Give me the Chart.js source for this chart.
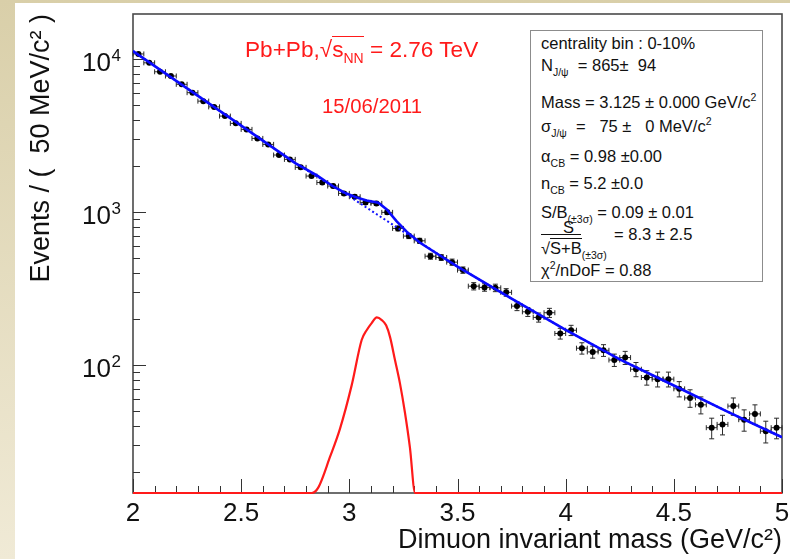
<!DOCTYPE html>
<html><head><meta charset="utf-8">
<script src="https://cdn.jsdelivr.net/npm/chart.js@4.4.1/dist/chart.umd.min.js"></script>
<style>
html,body{margin:0;padding:0;}
body{width:790px;height:559px;overflow:hidden;position:relative;background:linear-gradient(to bottom,#d9cfa9,#f0ead6);font-family:"Liberation Sans",Arial,sans-serif;}
#sheet{position:absolute;left:15px;top:3px;width:775px;height:556px;background:#fff;}
#chart{position:absolute;left:0;top:0;}
.t{position:absolute;white-space:pre;line-height:1;color:#111;}
.red{color:#ff1a1a;}
.st{font-size:16.5px;}
.sb{font-size:10.5px;position:relative;top:5px;}
.sp{font-size:10.5px;position:relative;top:-7px;}
#stats{position:absolute;left:530px;top:30px;width:231px;height:250px;border:1.5px solid #8c8c8c;background:#fff;}
</style></head>
<body>
<div id="sheet"></div>
<canvas id="chart" width="790" height="559"></canvas>

<div class="t red" style="left:245px;top:38.5px;font-size:22.6px;">Pb+Pb,√<span style="border-top:1.5px solid #ff1a1a;">s<span style="font-size:14px;position:relative;top:6px;">NN</span></span> = 2.76 TeV</div>
<div class="t red" style="left:322px;top:96px;font-size:20.3px;">15/06/2011</div>

<div id="stats"></div>
<div class="t st" style="left:541px;top:35px;">centrality bin : 0-10%</div>
<div class="t st" style="left:541px;top:57px;">N<span class="sb">J/ψ</span>  = 865±  94</div>
<div class="t st" style="left:541px;top:93.5px;">Mass = 3.125 ± 0.000 GeV/c<span class="sp">2</span></div>
<div class="t st" style="left:541px;top:118px;">σ<span class="sb">J/ψ</span>  =   75 ±   0 MeV/c<span class="sp">2</span></div>
<div class="t st" style="left:541px;top:147.5px;">α<span class="sb">CB</span> = 0.98 ±0.00</div>
<div class="t st" style="left:541px;top:174.5px;">n<span class="sb">CB</span> = 5.2 ±0.0</div>
<div class="t st" style="left:541px;top:204px;">S/B<span class="sb">(±3σ)</span> = 0.09 ± 0.01</div>
<div class="t st" style="left:563px;top:218.5px;">S</div>
<div style="position:absolute;left:541px;top:233.5px;width:40px;height:1.3px;background:#111;"></div>
<div class="t st" style="left:541px;top:239.5px;">√<span style="border-top:1.3px solid #111;">S+B</span><span class="sb">(±3σ)</span></div>
<div class="t st" style="left:614px;top:225.5px;">= 8.3 ± 2.5</div>
<div class="t st" style="left:541px;top:261.5px;">χ<span class="sp">2</span>/nDoF = 0.88</div>

<script>
// ---- axis ranges and ticks ----
const Y_MIN = 14.6;
const Y_MAX = 19700;
const X_MIN = 2;
const X_MAX = 5;
const xTickValues = [2, 2.5, 3, 3.5, 4, 4.5, 5];
const xTickLabels = ['2', '2.5', '3', '3.5', '4', '4.5', '5'];
const yTickValues = [100, 1000, 10000];
const yTickBase = ['10', '10', '10'];
const yTickExponents = ['2', '3', '4'];

// ---- data histogram (bin centres, counts, errors) ----
const BIN_HALF_WIDTH = 0.025;
const massBins = [2.025,2.075,2.125,2.175,2.225,2.275,2.325,2.375,2.425,2.475,
                  2.525,2.575,2.625,2.675,2.725,2.775,2.825,2.875,2.925,2.975,
                  3.025,3.075,3.125,3.175,3.225,3.275,3.325,3.375,3.425,3.475,
                  3.525,3.575,3.625,3.675,3.725,3.775,3.825,3.875,3.925,3.975,
                  4.025,4.075,4.125,4.175,4.225,4.275,4.325,4.375,4.425,4.475,
                  4.525,4.575,4.625,4.675,4.725,4.775,4.825,4.875,4.925,4.975];
const counts = [10800,9450,8260,7750,6840,6030,5310,4870,4240,3800,
                3470,3030,2770,2360,2210,1960,1720,1560,1480,1325,
                1260,1157,1140,996,782,697,649,515,505,471,
                418,328,322,320,299,243,223,205,220,161,
                169,129,122,125,108,112,94,83,81,81,
                70,61,55,39,41,54,44,48,37,39];
const countErrors = [104,97,91,88,83,78,73,70,65,62,
                     59,55,53,49,47,44,41,40,38,36,
                     35,34,34,32,28,26,25,23,22,22,
                     20,18,18,18,17,16,15,14,15,13,
                     13,11,11,11,10,11,10,9,9,9,
                     8,8,7,6,6,7,7,7,6,6];

// ---- fitted background (dotted) ----
const bkgMass   = [2.0, 2.25, 2.5, 2.75, 3.0, 3.25, 3.5, 3.75, 4.0, 4.25, 4.5, 4.75, 5.0];
const bkgValues = [11280, 6440, 3670, 2089, 1267, 745, 440, 272, 170, 109, 73.6, 49.5, 33.8];

// ---- total fit (solid) ----
const fitMass   = [2.0, 2.25, 2.5, 2.75, 2.85, 2.926, 2.98, 3.034, 3.08, 3.134, 3.173, 3.219, 3.265, 3.327, 3.388, 3.5, 3.75, 4.0, 4.25, 4.5, 4.75, 5.0];
const fitValues = [11280, 6440, 3670, 2089, 1735, 1470, 1335, 1245, 1190, 1150, 1040, 870, 745, 630, 555, 440, 272, 170, 109, 73.6, 49.5, 33.8];

// ---- J/psi signal (red), values below the axis minimum sit on the axis ----
const sigMass   = [2.0, 2.826, 2.857, 2.911, 2.957, 3.011, 3.057, 3.080, 3.104, 3.127, 3.150, 3.170, 3.188, 3.211, 3.234, 3.257, 3.280, 3.304, 5.0];
const sigValues = [14.6, 14.6, 15.9, 25.2, 38.5, 74, 146, 169, 189, 205, 197, 182, 153, 108, 76, 49, 29, 14.6, 14.6];

const FONT = '"Liberation Sans", Arial, sans-serif';
const pts = (xs, ys) => xs.map((x, i) => ({x: x, y: ys[i]}));

const errorBars = {
  id: 'errorBars',
  beforeDatasetsDraw(chart) {
    const {ctx, scales: {x, y}, chartArea: a} = chart;
    ctx.save();
    // frame
    ctx.strokeStyle = '#4a4a4a';
    ctx.lineWidth = 1.6;
    ctx.strokeRect(a.left, a.top, a.right - a.left, a.bottom - a.top);
    // ticks (inside)
    ctx.strokeStyle = '#333';
    ctx.lineWidth = 1;
    ctx.beginPath();
    for (let k = 0; k <= 30; k++) {
      const v = X_MIN + k * 0.1;
      const px = Math.round(x.getPixelForValue(v)) + 0.5;
      const major = xTickValues.some(t => Math.abs(t - v) < 1e-6);
      ctx.moveTo(px, a.bottom);
      ctx.lineTo(px, a.bottom - (major ? 14 : 7));
    }
    for (let d = 1; d <= 4; d++) {
      for (let m = 1; m <= 9; m++) {
        const v = m * Math.pow(10, d);
        if (v < Y_MIN || v > Y_MAX) continue;
        const py = Math.round(y.getPixelForValue(v)) + 0.5;
        ctx.moveTo(a.left, py);
        ctx.lineTo(a.left + (m === 1 ? 13 : 7), py);
      }
    }
    ctx.stroke();
    // error bars
    ctx.strokeStyle = '#2a2a2a';
    ctx.lineWidth = 1;
    ctx.beginPath();
    massBins.forEach((m, i) => {
      const px = x.getPixelForValue(m);
      const py = y.getPixelForValue(counts[i]);
      const yt = y.getPixelForValue(counts[i] + countErrors[i]);
      const yb = y.getPixelForValue(counts[i] - countErrors[i]);
      const xl = x.getPixelForValue(m - BIN_HALF_WIDTH);
      const xr = x.getPixelForValue(m + BIN_HALF_WIDTH);
      ctx.moveTo(px, yt); ctx.lineTo(px, yb);
      ctx.moveTo(px - 2.5, yt); ctx.lineTo(px + 2.5, yt);
      ctx.moveTo(px - 2.5, yb); ctx.lineTo(px + 2.5, yb);
      ctx.moveTo(xl, py); ctx.lineTo(xr, py);
      ctx.moveTo(xl, py - 2.5); ctx.lineTo(xl, py + 2.5);
      ctx.moveTo(xr, py - 2.5); ctx.lineTo(xr, py + 2.5);
    });
    ctx.stroke();
    ctx.restore();
  },
  afterDraw(chart) {
    const {ctx, scales: {y}} = chart;
    ctx.save();
    ctx.fillStyle = '#111';
    ctx.textBaseline = 'alphabetic';
    yTickValues.forEach((v, i) => {
      const py = y.getPixelForValue(v);
      ctx.font = '26px ' + FONT;
      ctx.textAlign = 'right';
      ctx.fillText(yTickBase[i], 111, py + 12);
      ctx.font = '17px ' + FONT;
      ctx.textAlign = 'left';
      ctx.fillText(yTickExponents[i], 111.5, py + 2);
    });
    ctx.restore();
  }
};

new Chart(document.getElementById('chart'), {
  type: 'scatter',
  data: {
    datasets: [
      {
        label: 'data',
        data: pts(massBins, counts),
        pointRadius: 3,
        pointBackgroundColor: '#000',
        pointBorderWidth: 0,
        borderColor: '#000',
        showLine: false,
        order: 4
      },
      {
        label: 'background',
        data: pts(bkgMass, bkgValues),
        showLine: true,
        borderColor: '#1010ff',
        borderWidth: 2,
        borderDash: [2, 2.5],
        pointRadius: 0,
        tension: 0,
        order: 3
      },
      {
        label: 'fit',
        data: pts(fitMass, fitValues),
        showLine: true,
        borderColor: '#0a0aff',
        borderWidth: 2.6,
        pointRadius: 0,
        tension: 0,
        order: 2
      },
      {
        label: 'signal',
        data: pts(sigMass, sigValues),
        showLine: true,
        borderColor: '#ff1a1a',
        borderWidth: 2.2,
        pointRadius: 0,
        cubicInterpolationMode: 'monotone',
        clip: 4,
        order: 1
      }
    ]
  },
  options: {
    responsive: false,
    animation: false,
    devicePixelRatio: 1,
    layout: {autoPadding: false, padding: {top: 14, right: 8, left: 0, bottom: 0}},
    plugins: {legend: {display: false}, tooltip: {enabled: false}},
    scales: {
      x: {
        type: 'linear', min: X_MIN, max: X_MAX,
        afterBuildTicks: s => { s.ticks = xTickValues.map(v => ({value: v})); },
        ticks: {
          callback: (v, i) => xTickLabels[i],
          font: {family: FONT, size: 26}, color: '#111', padding: 5,
          maxRotation: 0, autoSkip: false
        },
        grid: {display: false, drawTicks: false},
        border: {display: false},
        title: {
          display: true, text: 'Dimuon invariant mass (GeV/c²)', align: 'end',
          font: {family: FONT, size: 27}, color: '#111', padding: {top: 0, bottom: 2}
        },
        afterFit: s => { s.height = 66; s.paddingLeft = 0; s.paddingRight = 0; }
      },
      y: {
        type: 'logarithmic', min: Y_MIN, max: Y_MAX,
        ticks: {display: false},
        grid: {display: false, drawTicks: false},
        border: {display: false},
        title: {
          display: true, text: 'Events / (  50 MeV/c² )', align: 'end',
          font: {family: FONT, size: 27}, color: '#111', padding: {top: 25, bottom: 0}
        },
        afterFit: s => { s.width = 133; s.paddingTop = 0; s.paddingBottom = 0; }
      }
    }
  },
  plugins: [errorBars]
});
</script>
</body></html>
